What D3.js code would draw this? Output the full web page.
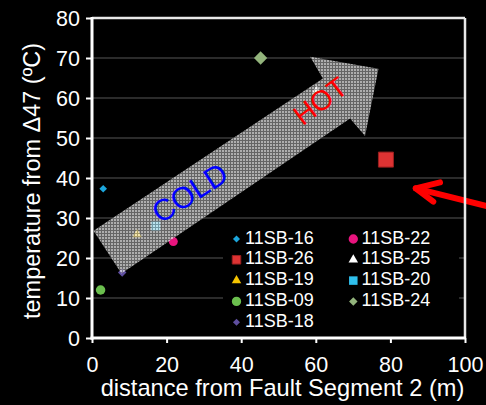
<!DOCTYPE html>
<html>
<head>
<meta charset="utf-8">
<script src="https://cdn.jsdelivr.net/npm/d3@7"></script>
<style>
  html, body { margin: 0; padding: 0; background: #000; }
  svg { display: block; }
</style>
</head>
<body>
<svg id="chart" width="486" height="405"></svg>
<script>
// Sample series: distance from fault segment (m) and clumped-isotope temperature (ºC)
const seriesNames = ["11SB-16", "11SB-26", "11SB-19", "11SB-09", "11SB-18",
                     "11SB-22", "11SB-25", "11SB-20", "11SB-24"];
const distances    = [3.0, 78.8, 12.1, 2.3, 8.1, 21.8, 60.2, 17.1, 45.2];
const temperatures = [37.3, 44.6, 25.9, 12.0, 16.4, 24.1, 61.8, 28.0, 70.0];

const xTicks = [0, 20, 40, 60, 80, 100];
const yTicks = [0, 10, 20, 30, 40, 50, 60, 70, 80];
const gridValues = [10, 20, 30, 40, 50, 60, 70];

// Big trend arrow (data units), from cold near the fault to hot further out
const trendArrowX = [0.4, 61.9, 58.5, 76.8, 73.2, 69.2, 7.9];
const trendArrowY = [26.8, 64.9, 70.3, 67.3, 50.5, 54.9, 16.1];

// Pointer arrow on the right (data units)
const pointerLineX = [107, 86.8];
const pointerLineY = [32.7, 37.4];
const pointerHeadX = [93.3, 86.8, 91.5];
const pointerHeadY = [38.9, 37.4, 34.1];

// Marker styles per series
const markerStyle = {
  "11SB-16": { shape: "diamond",  color: "#1ca6dc", plot: 5.4, key: 5.0 },
  "11SB-26": { shape: "square",   color: "#dd3333", plot: 15,  key: 8.5, stroke: "#9a1f1f" },
  "11SB-19": { shape: "triangle", color: "#f5c400", plot: 9.5, key: 9.5 },
  "11SB-09": { shape: "circle",   color: "#6bbf4e", plot: 9.5, key: 9.3 },
  "11SB-18": { shape: "diamond",  color: "#5f4fa0", plot: 6.0, key: 5.0 },
  "11SB-22": { shape: "circle",   color: "#e8147e", plot: 9.0, key: 9.3 },
  "11SB-25": { shape: "triangle", color: "#ffffff", plot: 9.5, key: 9.5 },
  "11SB-20": { shape: "square",   color: "#2fbfec", plot: 9.0, key: 8.5 },
  "11SB-24": { shape: "diamond",  color: "#93b47c", plot: 9.4, key: 6.0 }
};

const svg = d3.select("#chart");
const FONT = "'Liberation Sans', Arial, sans-serif";

const x = d3.scaleLinear().domain([0, 100]).range([92, 465]);
const y = d3.scaleLinear().domain([0, 80]).range([338, 18]);

// Scale a text's font size so it spans the given width
function fitWidth(sel, width) {
  const fs = parseFloat(sel.attr("font-size"));
  const len = sel.node().getComputedTextLength();
  sel.attr("font-size", (fs * width / len).toFixed(2));
}

// Symbol path generator; 'd' is side length / diameter in px
function markerPath(shape, d) {
  if (shape === "circle") return d3.symbol(d3.symbolCircle, Math.PI * d * d / 4)();
  if (shape === "square" || shape === "diamond") return d3.symbol(d3.symbolSquare, d * d)();
  if (shape === "triangle") return d3.symbol(d3.symbolTriangle, Math.sqrt(3) / 4 * d * d)();
}
function drawMarker(g, name, cx, cy, d) {
  const s = markerStyle[name];
  const rot = s.shape === "diamond" ? " rotate(45)" : "";
  g.append("path")
    .attr("d", markerPath(s.shape, d))
    .attr("transform", `translate(${cx},${cy})${rot}`)
    .attr("fill", s.color)
    .attr("stroke", s.stroke || "none")
    .attr("stroke-width", s.stroke ? 1 : 0);
}

// Dotted fill pattern for the trend arrow
const defs = svg.append("defs");
const pat = defs.append("pattern")
  .attr("id", "dots").attr("patternUnits", "userSpaceOnUse")
  .attr("width", 3).attr("height", 3);
pat.append("rect").attr("width", 3).attr("height", 3).attr("fill", "#8c8c8c");
pat.append("rect").attr("width", 2).attr("height", 2).attr("fill", "#f2f2f2");

// Gridlines
svg.append("g").selectAll("line").data(gridValues).join("line")
  .attr("x1", x(0)).attr("x2", x(100))
  .attr("y1", d => y(d)).attr("y2", d => y(d))
  .attr("stroke", "#3a3a3a").attr("stroke-width", 1.5);

// Data points
const pts = svg.append("g");
seriesNames.forEach((n, i) => {
  drawMarker(pts, n, x(distances[i]), y(temperatures[i]), markerStyle[n].plot);
});

// Trend arrow
svg.append("path")
  .attr("d", d3.line()(trendArrowX.map((v, i) => [x(v), y(trendArrowY[i])])) + "Z")
  .attr("fill", "url(#dots)")
  .attr("opacity", 0.72);

// Arrow labels
svg.append("text")
  .attr("transform", `translate(${x(26.2)},${y(36.3)}) rotate(-33)`)
  .attr("text-anchor", "middle").attr("dominant-baseline", "central")
  .attr("font-family", FONT)
  .attr("font-size", 30).attr("fill", "#0000ff")
  .text("COLD");
svg.append("text")
  .attr("transform", `translate(${x(61.2)},${y(59.2)}) rotate(-37)`)
  .attr("text-anchor", "middle").attr("dominant-baseline", "central")
  .attr("font-family", FONT)
  .attr("font-size", 28).attr("fill", "#ff0000")
  .text("HOT");

// Legend
const legend = svg.append("g");
legend.append("rect")
  .attr("x", 223).attr("y", 224).attr("width", 236).attr("height", 110)
  .attr("fill", "#000");
const legendCols = [seriesNames.slice(0, 5), seriesNames.slice(5)];
const colMarkerX = [236.5, 353.3];
const colTextX = [245, 361.5];
legendCols.forEach((col, c) => {
  col.forEach((n, r) => {
    const base = 243.5 + r * 20.8;
    drawMarker(legend, n, colMarkerX[c], base - 4.5, markerStyle[n].key);
    legend.append("text")
      .attr("x", colTextX[c]).attr("y", base)
      .attr("font-family", FONT).attr("font-size", 18)
      .attr("fill", "#fff").text(n);
  });
});

// Pointer arrow
const pointer = svg.append("g")
  .attr("fill", "none").attr("stroke", "#ff0000")
  .attr("stroke-width", 6).attr("stroke-linecap", "round").attr("stroke-linejoin", "round");
pointer.append("path")
  .attr("d", d3.line()(pointerLineX.map((v, i) => [x(v), y(pointerLineY[i])])));
pointer.append("path")
  .attr("d", d3.line()(pointerHeadX.map((v, i) => [x(v), y(pointerHeadY[i])])));

// Frame
svg.append("line").attr("x1", x(0)).attr("x2", x(100)).attr("y1", y(80)).attr("y2", y(80))
  .attr("stroke", "#e8e8e8").attr("stroke-width", 2.5);
svg.append("line").attr("x1", x(100)).attr("x2", x(100)).attr("y1", y(80)).attr("y2", y(0))
  .attr("stroke", "#e8e8e8").attr("stroke-width", 2.5);

// Axes
const xAxis = d3.axisBottom(x).tickValues(xTicks).tickSize(5).tickPadding(14);
const yAxis = d3.axisLeft(y).tickValues(yTicks).tickSize(6).tickPadding(6);

const gx = svg.append("g").attr("transform", `translate(0,${y(0)})`).call(xAxis);
const gy = svg.append("g").attr("transform", `translate(${x(0)},0)`).call(yAxis);
[gx, gy].forEach(g => {
  g.select(".domain").attr("stroke", "#fff").attr("stroke-width", 3);
  g.selectAll(".tick line").attr("stroke", "#fff").attr("stroke-width", 2);
  g.selectAll(".tick text").attr("fill", "#fff")
    .attr("font-family", FONT).attr("font-size", 21.5);
});
gx.select(".domain").attr("d", `M${x(0) - 1.5},0H${x(100) + 1}`);
gy.select(".domain").attr("d", `M0,${y(80) - 1}V${y(0) + 1.5}`);
gx.selectAll(".tick text").attr("dy", "0.71em");
gy.selectAll(".tick text").attr("dy", "0.36em").attr("x", -12);

// Axis titles
const xTitle = svg.append("text")
  .attr("x", 282.5).attr("y", 396)
  .attr("text-anchor", "middle")
  .attr("font-family", FONT).attr("font-size", 20)
  .attr("fill", "#fff")
  .text("distance from Fault Segment 2 (m)");
fitWidth(xTitle, 364);
const yTitle = svg.append("text")
  .attr("transform", "translate(40,181) rotate(-90)")
  .attr("text-anchor", "middle")
  .attr("font-family", FONT).attr("font-size", 20)
  .attr("fill", "#fff")
  .text("temperature from Δ47 (ºC)");
fitWidth(yTitle, 276);
</script>
</body>
</html>
